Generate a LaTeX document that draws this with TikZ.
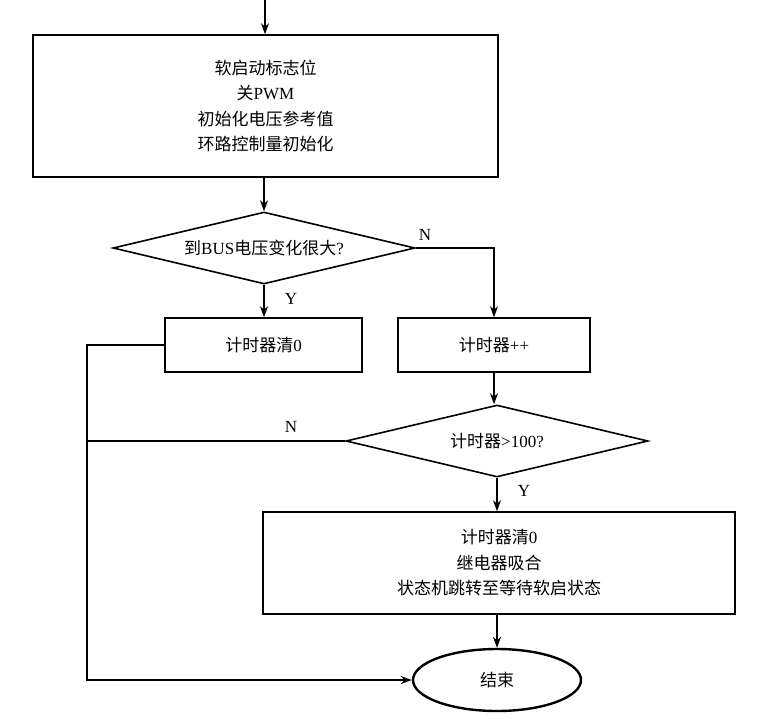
\documentclass[tikz,border=0pt]{standalone}
\usepackage{fontspec}
\setmainfont{Liberation Serif}
\newfontfamily\cjk{Noto Sans CJK SC}
\usetikzlibrary{shapes.geometric,positioning,calc,arrows.meta}

\tikzset{
    block/.style={draw, line width=1.6pt, minimum width=#1, align=center, inner sep=0pt},
    decide/.style={draw, diamond, line width=1.6pt, aspect=4.1, minimum width=302pt, minimum height=72pt, inner sep=0pt},
    flow/.style={line width=1.6pt, -{Stealth[length=11pt, width=8pt]}},
    wire/.style={line width=1.6pt},
    lbl/.style={font=\fontsize{17}{19}\selectfont}
}

\begin{document}
\begin{tikzpicture}[x=1pt, y=-1pt, font=\fontsize{17}{25.5}\selectfont\cjk]
    \useasboundingbox (0,0) rectangle (770,718);

    % Init block
    \coordinate (in) at (265,0);
    \node[block=465pt, minimum height=142pt] (init) at (265.5,106)
        {软启动标志位\\关{\rmfamily PWM}\\初始化电压参考值\\环路控制量初始化};
    \draw[flow] (in) -- (init.north -| in);

    % BUS check
    \node[decide] (bus) at (264,248) {到{\rmfamily BUS}电压变化很大{\rmfamily ?}};
    \draw[flow] (init.south -| bus) -- (bus.north);

    % Timer boxes
    \node[block=197pt, minimum height=54pt] (clr) at (263.5,345) {计时器清{\rmfamily 0}};
    \node[block=192pt, minimum height=54pt] (inc) at (494,345) {计时器{\rmfamily ++}};
    \draw[flow] (bus.south) -- (clr.north -| bus.south);
    \node[lbl] at (291,299) {Y};
    \draw[flow] (bus.east) -| (inc.north);
    \node[lbl] at (425,235) {N};

    % Timer check
    \node[decide] (cnt) at (497,441) {计时器{\rmfamily >100?}};
    \draw[flow] (inc.south) -- (inc.south |- cnt.north);
    \coordinate (lft) at (87,441);
    \draw[wire] (cnt.west) -- (lft);
    \node[lbl] at (291,427) {N};

    % Relay block
    \node[block=472pt, minimum height=102pt] (relay) at (499,563)
        {计时器清{\rmfamily 0}\\继电器吸合\\状态机跳转至等待软启状态};
    \draw[flow] (cnt.south) -- (cnt.south |- relay.north);
    \node[lbl] at (524,491) {Y};

    % End
    \node[draw, ellipse, line width=2.4pt, minimum width=168pt, minimum height=62pt] (end) at (497,680) {结束};
    \draw[flow] (relay.south -| end) -- (end.north);
    \coordinate (bl) at (87,680);
    \draw[flow] (clr.west) -| (bl) -- (end.west);
\end{tikzpicture}
\end{document}
